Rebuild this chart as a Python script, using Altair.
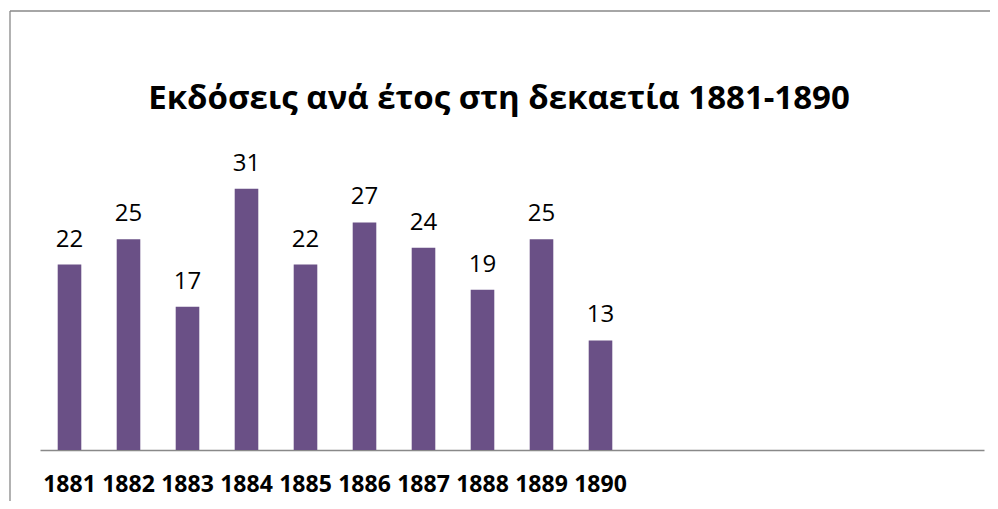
import altair as alt
import pandas as pd

years = ["1881", "1882", "1883", "1884", "1885", "1886", "1887", "1888", "1889", "1890"]
counts = [22, 25, 17, 31, 22, 27, 24, 19, 25, 13]
# the source sheet leaves six empty category slots after 1890
empty_slots = [" " * (i + 1) for i in range(6)]

title_text = "Εκδόσεις ανά έτος στη δεκαετία 1881-1890"

df = pd.DataFrame({"year": years, "count": counts})

x_enc = alt.X(
    "year:N",
    sort=None,
    scale=alt.Scale(domain=years + empty_slots, paddingInner=0.6, paddingOuter=0.3),
    axis=alt.Axis(
        title=None,
        ticks=False,
        tickSize=0,
        domainColor="#898989",
        domainWidth=1.5,
        labelAngle=0,
        labelFont="Open Sans",
        labelFontWeight="bold",
        labelFontSize=23,
        labelColor="#000000",
        labelPadding=23,
        grid=False,
    ),
)
y_enc = alt.Y("count:Q", scale=alt.Scale(domain=[0, 35]), axis=None)

bars = alt.Chart(df).mark_bar(color="#6a5086").encode(x=x_enc, y=y_enc)
labels = alt.Chart(df).mark_text(
    font="Open Sans", fontSize=24, color="#000000", baseline="alphabetic", dy=-18
).encode(x=x_enc, y=y_enc, text="count:Q")

frame_data = alt.Data(values=[{}])
frame_top = alt.Chart(frame_data).mark_rule(color="#888888", strokeWidth=1.3).encode(
    x=alt.value(-30), x2=alt.value(960), y=alt.value(-144)
)
frame_left = alt.Chart(frame_data).mark_rule(color="#888888", strokeWidth=1.3).encode(
    x=alt.value(-30), y=alt.value(-144), y2=alt.value(360)
)

chart = (
    alt.layer(frame_top, frame_left, bars, labels)
    .properties(
        width=944,
        height=295,
        padding={"left": 32, "top": 147, "right": 6, "bottom": 51},
        autosize=alt.AutoSizeParams(type="none"),
        title=alt.TitleParams(
            title_text,
            font="Open Sans",
            fontSize=33,
            fontWeight="bold",
            color="#000000",
            anchor="middle",
            dx=-13,
            offset=-132,
            baseline="alphabetic",
        ),
    )
    .configure(background="#ffffff", view=alt.ViewConfig(strokeWidth=0))
)

chart.save("out.html", embed_options={"renderer": "svg", "actions": False})
